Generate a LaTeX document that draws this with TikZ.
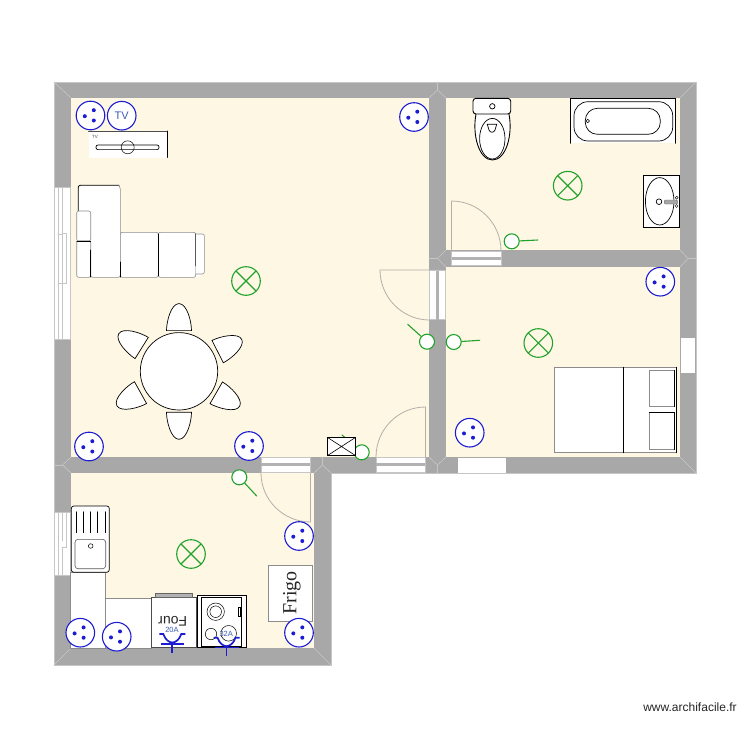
\documentclass[tikz,border=0pt]{standalone}
\usepackage{fontspec}
\setmainfont{Liberation Sans}
\newfontfamily\frigofont{Liberation Serif}
\definecolor{wallcolor}{HTML}{A8A8A8}
\definecolor{walledge}{HTML}{C6C6C6}
\definecolor{floorcolor}{HTML}{FDF7E4}
\definecolor{plugcolor}{HTML}{1C1CD2}
\definecolor{tvcolor}{HTML}{3C5CB4}
\definecolor{lampcolor}{HTML}{22A22C}
\definecolor{doorcolor}{HTML}{B4B0A8}
\begin{document}
\begin{tikzpicture}[x=1pt,y=-1pt,line cap=round]
        % Styles
        \tikzstyle{floor}=[fill=floorcolor,draw=none]
        \tikzstyle{mitre}=[draw=walledge,line width=0.6pt]
        \tikzstyle{pane}=[fill=white,draw=walledge,line width=0.7pt]
        \tikzstyle{sash}=[draw=walledge!90!black,line width=3pt,line cap=butt]
        \tikzstyle{door}=[draw=doorcolor,line width=0.8pt]
        \tikzstyle{plug}=[draw=plugcolor,line width=1.1pt,fill=white]
        \tikzstyle{plug dot}=[fill=plugcolor,draw=none]
        \tikzstyle{lamp}=[draw=lampcolor,line width=1.1pt]
        \tikzstyle{furniture}=[fill=white,draw=black,line width=0.7pt]
        \tikzstyle{soft}=[fill=white,draw=black!45,line width=0.6pt]
        \tikzstyle{line outlet}=[draw=plugcolor,line width=1.7pt,line cap=butt]
        \useasboundingbox (0,0) rectangle (750,750);
        \fill[white] (0,0) rectangle (750,750);
        % Walls and floors
        \draw[fill=wallcolor,draw=walledge,line width=0.8pt] (54,82) -- (696,82) -- (696,473) -- (331,473) -- (331,665) -- (54,665) -- cycle;
        \fill[floor] (71,98) rectangle (429,457);
        \fill[floor] (446,98) rectangle (680,250);
        \fill[floor] (446,267) rectangle (680,457);
        \fill[floor] (71,473) rectangle (314,648);
        % Corners of the walls
        \foreach \xa/\ya/\xb/\yb in {54/82/71/98, 696/82/680/98, 696/473/680/457, 54/665/71/648, 331/665/314/648,
            429/98/437.5/90, 446/98/437.5/90, 437.5/82/437.5/90, 446/250/437.5/258.5, 446/267/437.5/258.5, 429/258.5/437.5/258.5,
            680/250/688/258.5, 680/267/688/258.5, 696/258.5/688/258.5, 429/457/437.5/465, 446/457/437.5/465, 437.5/473/437.5/465,
            71/457/62.5/465, 71/473/62.5/465, 54/465/62.5/465, 314/473/322.5/465, 331/473/322.5/465, 322.5/457/322.5/465}
            \draw[mitre] (\xa,\ya) -- (\xb,\yb);
        % Windows
        \draw[pane] (54,187.5) rectangle (70.5,339);
        \draw[walledge,line width=0.8pt] (58,187.5) -- (58,339);
        \draw[walledge,line width=0.8pt] (62,187.5) -- (62,234) -- (58,234) (62,234) -- (62,283) (62,339) -- (62,283) -- (58,283);
        \draw[walledge,line width=0.8pt] (66.5,233) rectangle (62,283);
        \draw[pane] (54,512) rectangle (70.5,575);
        \draw[walledge,line width=0.8pt] (58,512) -- (58,575) (62,512) -- (62,541) (66.5,512) -- (66.5,547) -- (62,547) (62,547) -- (62,575);
        \fill[white] (681,338) rectangle (695,373);
        \fill[white] (458,458) rectangle (506,472.5);
        % Door openings
        \foreach \xa/\ya/\xb/\yb in {451.5/251/501/265.5, 376/457/425/472.5, 261/457.5/310/472.5}
            \draw[pane] (\xa,\ya) rectangle (\xb,\yb);
        \foreach \xa/\xb/\y in {451.5/501/258.8, 376/425/464.8, 261/310/464.8}
            \draw[sash] (\xa,\y) -- (\xb,\y);
        \draw[pane] (429.5,270.5) rectangle (445.5,319.5);
        \draw[sash] (437.5,270.5) -- (437.5,319.5);
        % Door leaves
        \draw[door] (451.5,251) -- (451.5,201) .. controls (478.5,201) and (501,223) .. (501,251);
        \draw[door] (429.5,270) -- (380,270) .. controls (380,297) and (402,320) .. (429.5,320);
        \draw[door] (425.5,457) -- (425.5,407) .. controls (398.5,407) and (376,429) .. (376,457);
        \draw[door] (310.5,473) -- (310.5,522) .. controls (283.5,522) and (261,500) .. (261,473);
        % TV unit
        \fill[white] (88.5,131) rectangle (167.5,157.5);
        \draw[black!70,line width=0.7pt] (88.5,131) -- (167.5,131);
        \draw[black,line width=0.7pt] (167.5,131) -- (167.5,157.5);
        \node[font=\fontsize{4.5}{5}\selectfont,text=black!70,inner sep=0pt] (tvmark) at (95,137) {TV};
        \draw[furniture,rounded corners=2pt] (96,145) rectangle (159,149.6);
        \draw[black,line width=0.5pt] (127.7,147.3) circle[radius=6.5];
        % Sofa
        \fill[white,rounded corners=2pt] (78.3,185.3) -- (120,185.3) -- (120,232.3) -- (195.7,232.3) -- (204.3,234) -- (204.3,274) -- (195.7,277.3) -- (76.7,277.3) -- (76.7,211) -- (78.3,211) -- cycle;
        \draw[black,line width=0.8pt,rounded corners=2pt] (78.3,211) -- (78.3,185.3) -- (119,185.3);
        \draw[soft,rounded corners=2pt] (119,185.3) -- (120.3,187) -- (120.3,277.3);
        \draw[soft,rounded corners=2pt] (76.7,211) rectangle (90.7,241);
        \draw[soft,rounded corners=2pt] (76.7,241) rectangle (90.7,277.3);
        \draw[soft,rounded corners=2pt] (90.7,277.3) rectangle (120.3,277.3);
        \draw[soft,rounded corners=2pt] (120.3,232.3) rectangle (158.3,277.3);
        \draw[soft,rounded corners=2pt] (158.3,232.3) rectangle (195.7,277.3);
        \draw[black,line width=0.7pt] (90.7,250) -- (90.7,277) (120.3,262) -- (120.3,277) (158.3,234) -- (158.3,276) (195.7,234) -- (195.7,266) (76.7,241) -- (90.7,241);
        \draw[soft,rounded corners=2pt] (195.7,234) -- (204.3,234) -- (204.3,274) -- (195.7,274);
        % Table and chairs
        \foreach \ang/\dist in {90/40.7,27/43.4,148/44,209/44,270/41,330/43}
            \draw[furniture,shift={(179,371.3)},rotate=\ang] (\dist,-12.5) .. controls (\dist+9,-12.5) and (\dist+27,-8) .. (\dist+27,0) .. controls (\dist+27,8) and (\dist+9,12.5) .. (\dist,12.5) -- cycle;
        \draw[furniture] (179,371.3) circle[radius=38.7];
        % Toilet
        \draw[furniture,line width=0.9pt] (476,114) .. controls (472,135) and (479,160) .. (492.5,160) .. controls (506,160) and (513,135) .. (509,114);
        \draw[furniture,line width=0.9pt,rounded corners=3pt] (473,98.3) rectangle (510.7,114);
        \draw[furniture] (492.3,106.3) circle[radius=2.7];
        \draw[furniture] (492.3,138.7) ellipse[x radius=12.7,y radius=20.3];
        \draw[furniture] (487.3,124.3) -- (496.7,124.3) -- (495,130) .. controls (494,133) and (490,133) .. (489,130) -- cycle;
        % Bath
        \fill[white] (570.3,98.3) rectangle (675,143.3);
        \draw[black,line width=0.8pt] (570.3,143.3) -- (570.3,98.3) -- (675,98.3) -- (675,143.3);
        \draw[furniture,rounded corners=14pt] (574,101.7) rectangle (672.7,141);
        \draw[furniture,rounded corners=12pt] (585.3,108.3) rectangle (660.3,134.3);
        \draw[furniture,line width=0.5pt] (587.7,121) circle[radius=1.8];
        % Washbasin
        \draw[furniture,line width=0.9pt] (643.3,175.3) rectangle (679.3,227.3);
        \draw[furniture] (659.7,201.3) ellipse[x radius=14.3,y radius=23.7];
        \draw[furniture] (659,201.7) circle[radius=2.8];
        \draw[fill=black!35,draw=black!60,line width=0.4pt,rounded corners=1pt] (664.3,200) rectangle (677.5,204);
        \draw[fill=white,draw=black,line width=0.4pt] (676.7,197.7) circle[radius=1.5] (676.7,206) circle[radius=1.5];
        % Bed
        \draw[soft] (554.3,367.3) rectangle (676.7,452.7);
        \draw[black,line width=0.9pt] (623.3,367.3) -- (623.3,452.7) (676.7,367.3) -- (676.7,452.7);
        \draw[soft] (649.3,370.3) rectangle (674.7,406.7);
        \draw[soft] (649.3,412.3) rectangle (674.7,449.7);
        \draw[black,line width=0.7pt] (674.7,370.3) -- (674.7,406.7) (649.3,412.3) -- (674.7,412.3) -- (674.7,449.7);
        % Kitchen units
        \draw[soft] (70.7,572) rectangle (105.5,648);
        \draw[soft] (105.5,598) rectangle (151.5,648.3);
        \draw[furniture,rounded corners=2.5pt] (71.3,506) rectangle (109.3,572.3);
        \foreach \x in {76.7,83.3,90,97.7,105}
            \draw[black,line width=0.6pt] (\x,511.7) -- (\x,532.7);
        \draw[soft,draw=black!65,rounded corners=3pt] (75,539.3) rectangle (105.7,568.7);
        \draw[furniture,line width=0.5pt] (90.7,546) circle[radius=2.3];
        % Oven
        \draw[soft,draw=black!70] (151.7,597.3) rectangle (196,647.3);
        \draw[fill=black!30,draw=black!60,line width=0.5pt] (155.3,593.7) rectangle (192.7,597.3);
        \node[font=\fontsize{14}{16}\selectfont,rotate=180,inner sep=0pt,text=black!85] (four) at (172.7,621.3) {Four};
        % Hob
        \draw[furniture,line width=0.9pt] (197.7,595.3) rectangle (246.7,647.3);
        \draw[furniture,line width=0.9pt] (201.7,597.3) rectangle (241.7,646);
        \draw[furniture,line width=0.5pt] (215.7,611.7) circle[radius=8.7] (215.7,611.7) circle[radius=5.8];
        \draw[furniture,line width=0.5pt] (211,634) circle[radius=5.7] (228.7,633.3) circle[radius=7.8];
        \draw[furniture,line width=0.5pt] (238,607) rectangle (240.7,616.7);
        % Fridge
        \draw[soft] (268.7,565.3) rectangle (312.3,621.3);
        \node[font=\frigofont\fontsize{20}{22}\selectfont,rotate=90,inner sep=0pt,text=black!85] (frigo) at (292,593) {Frigo};
        % Sockets
        \foreach \x/\y in {90.5/115.5, 414/117, 660.3/281.7, 469.7/432.7, 89/446.5, 249/446, 299/536, 299/632.7, 80.3/632.7, 116.7/636.7}{
            \draw[plug] (\x,\y) circle[radius=14.3];
            \fill[plug dot] (\x-5.7,\y+0.7) circle[radius=2] (\x+3.3,\y-5.3) circle[radius=2] (\x+3.3,\y+5) circle[radius=2];
        }
        \node[circle,draw=plugcolor,line width=1.1pt,fill=white,minimum size=28.6pt,inner sep=0pt,text=tvcolor,font=\fontsize{11}{12}\selectfont] (tv) at (121.7,115.7) {TV};
        % Ceiling lights
        \foreach \x/\y in {246/281, 567.7/185.7, 538.3/343, 191/554}{
            \draw[lamp] (\x,\y) circle[radius=14.3];
            \draw[lamp] (\x-10.1,\y-10.1) -- (\x+10.1,\y+10.1) (\x-10.1,\y+10.1) -- (\x+10.1,\y-10.1);
        }
        % Switches
        \foreach \name/\x/\y/\xe/\ye in {bath/511.7/241.3/537.7/240, lounge/427/341.7/407.7/324.3, bed/453.7/342/479.7/340.3, entry/361.7/452.3/342/435, kitchen/239.3/477.3/256.7/496}{
            \node[circle,draw=lampcolor,line width=1.1pt,fill=white,minimum size=15pt,inner sep=0pt] (\name) at (\x,\y) {};
            \coordinate (\name end) at (\xe,\ye);
            \draw[lamp] (\name) -- (\name end);
        }
        % Electric board
        \draw[furniture,line width=0.9pt] (327.3,437.3) rectangle (355.7,455.7);
        \draw[black,line width=0.6pt] (327.3,437.3) -- (355.7,455.7) (327.3,455.7) -- (355.7,437.3);
        % Dedicated lines
        \foreach \x/\y/\ampere in {172.3/634/20A, 226.5/637.7/32A}{
            \draw[line outlet] (\x-13,\y) -- (\x-9,\y) .. controls (\x-7,\y+6) and (\x-3,\y+8.5) .. (\x,\y+8.5) .. controls (\x+3,\y+8.5) and (\x+7,\y+6) .. (\x+9,\y) -- (\x+13,\y);
            \draw[line outlet] (\x-11.5,\y+9.7) -- (\x+12,\y+9.7) (\x,\y+8.5) -- (\x,\y+18.5);
            \node[font=\fontsize{7.5}{8}\selectfont,text=tvcolor,inner sep=0pt] (amp\ampere) at (\x-0.3,\y-4) {\ampere};
        }
        \node[font=\fontsize{12}{14}\selectfont,text=black!85,inner sep=0pt] (credit) at (690,707) {www.archifacile.fr};
    \end{tikzpicture}
\end{document}
